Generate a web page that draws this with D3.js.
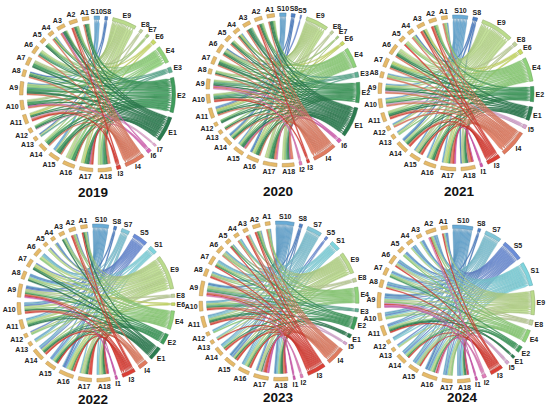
<!DOCTYPE html>
<html>
<head>
<meta charset="utf-8">
<script src="https://cdn.jsdelivr.net/npm/d3@7"></script>
<style>
  body { margin: 0; background: #fff; }
  svg { display: block; }
</style>
</head>
<body>
<div id="chart"></div>
<script>
// target nodes (left half of every circle)
const targets = ["A1", "A2", "A3", "A4", "A5", "A6", "A7", "A8", "A9",
  "A10", "A11", "A12", "A13", "A14", "A15", "A16", "A17", "A18"];

const years = ["2019", "2020", "2021", "2022", "2023", "2024"];

// right-hand nodes per year, clockwise from the top
const nodes2019 = ["S10", "S8", "E9", "E8", "E7", "E6", "E4", "E3", "E2", "E1", "I7", "I6", "I4", "I3"];
const nodes2020 = ["S10", "S8", "S5", "E9", "E8", "E7", "E6", "E4", "E3", "E2", "E1", "I6", "I4", "I3", "I2"];
const nodes2021 = ["S10", "S8", "E9", "E8", "E6", "E4", "E2", "E1", "I5", "I4", "I3", "I1"];
const nodes2022 = ["S10", "S8", "S7", "S5", "S1", "E9", "E8", "E6", "E4", "E2", "E1", "I4", "I3", "I1"];
const nodes2023 = ["S10", "S8", "S7", "S5", "S1", "E9", "E8", "E4", "E3", "E2", "E1", "I5", "I4", "I3", "I2", "I1"];
const nodes2024 = ["S10", "S8", "S7", "S5", "S1", "E9", "E8", "E4", "E2", "E1", "I5", "I3", "I2", "I1"];

// flows: one row per right node, columns A1..A18
const flows2019 = [
  [0,0,0,1,0,0,0,0,1,0,0,0,0,0,2,0,0,0],
  [0,0,0,0,0,0,0,1,0,0,0,0,1,0,0,0,0,0],
  [1,0,1,0,1,2,1,0,1,1,1,0,1,1,1,2,2,2],
  [0,0,0,0,0,0,1,0,0,0,0,0,0,0,0,1,0,0],
  [0,1,0,0,0,0,0,0,0,1,0,0,0,0,0,0,0,0],
  [0,0,0,1,0,0,0,0,0,0,1,0,0,0,0,0,1,0],
  [0,1,0,0,1,1,1,1,2,0,0,1,0,1,0,2,0,2],
  [0,0,0,0,0,1,0,0,1,0,0,0,1,0,0,0,0,1],
  [2,1,1,1,1,1,2,1,2,2,1,1,0,2,2,2,2,2],
  [1,1,2,0,1,0,1,1,2,1,1,1,0,1,2,1,2,1],
  [0,0,0,0,0,0,0,0,0,0,1,0.5,0,0,0,0,0,0],
  [0,0,1,0,0,0,0,0,0,1,0,0,0,0,0,0,1,0],
  [1,1,1,1,0,1,0,1,1,1,1,0,0,1,1,1,1,2],
  [0,1,0,0,0,0,0,0,0,0,1,0,0,0,0,0,1,0]
];
const flows2020 = [
  [0,0,0,1,0,0,0,0,0,0,1,0,0,1,1,1,0,0],
  [0,0,0,0,0,1,0,0,0,0,0,0,0,1,0,1,0,0],
  [0,0,0,0,0,0,0,0,0,0,1,0,0,0,0,0,0,0],
  [1,1,1,0,1,1,1,1,1,1,1,0,0,1,1,2,2,2],
  [0,0,0,0,0,1,0,0,0,0,0,0,0,0,0,0,1,0],
  [0,0,0,0,1,0,0,0,0,0,0,0,0,0,0,0,0,0.5],
  [0,0,0,1,0,0,0,0,0,0,1,0,0,0,0,0.5,0,0],
  [1,1,0,1,0,1,1,1,1,1,1,1,1,1,1,1,1,1],
  [0,0,1,0,0,0,0,0,1,1,0,0,0,0,0,0,0,1],
  [1,1,1,0,1,1,1,0,1,1,1,1,0,1,1,1,2,1],
  [2,1,2,1,1,1,2,1,1,1,1,1,1,1,2,2,2,1],
  [0,0,0,0,0,0,0,0,1,0,0,0,0,0,1,0,0,1],
  [1,1,1,1,1,1,1,1,1,1,1,0,1,1,1,1,2,2],
  [0,1,0,0,0,0,0,0,0,1,0,0,0,0,0,0,0,0],
  [0,0,0,0,0,0,0,0,1,0,0,0,0,0,0,0,1,0]
];
const flows2021 = [
  [1,0,0,0,0,0,0,1,1,1,0,1,1,1,1,1,1,0],
  [0,0,0,1,0,0,0,0,0,0,0,0,0,1,0,0,0,1],
  [1,1,1,1,2,2,1,1,1,1,1,1,1,1,1,2,2,1],
  [0,0,0,0,0,1,0,0,0,0,0,0,0,0,1,0,0,0.5],
  [0,0,1,0,0,0,1,0,0,0,0,0,0,0,0,0,1,0],
  [1,1,0,1,1,1,1,1,1,1,1,0,1,1,1,1,1,1],
  [0,1,0,0,0,1,1,0,1,1,1,0,0,1,0,1,1,1],
  [0,0,1,0,0,1,1,0,1,0,1,0,0,1,1,1,0,1],
  [0,0,0,0,0,0,0,0,1,1,0,0,0,0,0,0,0,0.5],
  [1,1,1,1,0,1,1,1,1,1,1,1,0,1,1,1,2,2],
  [0,1,1,0,1,0,0,0,0,0,1,0,0,1,1,1,1,1],
  [0,0,0,0,0,0,0,0,0,0,0,0,0,0,0,0,1,0.5]
];
const flows2022 = [
  [1,0,1,1,0,1,0,1,1,1,1,0,1,1,1,1,0,0],
  [0,0,0,0,0,0,0,0,1,0,0,0,0,0,0,1,0,0],
  [0,0,0,0,0,1,0,0,0,1,0,0,1,1,0,0,1,1],
  [0,1,0,1,1,0,1,1,1,1,0,1,0,1,1,1,0,0],
  [0,0,0,0,0,1,0,1,0,0,1,0,0,0,1,1,0,1],
  [1,1,1,1,2,2,2,1,1,2,2,1,1,1,1,2,2,2],
  [0,0,0,0,0,0,0,0,1,0,0,0,0,0,0,0,1,0.5],
  [0,0,0,0,0,0,1,0,0,0,0,0,0,0,0,1,0,0],
  [1,1,1,0,0,1,0,1,1,1,1,1,0,1,1,1,1,1],
  [0,0,0,0,0,0,1,0,1,0,1,0,0,1,1,1,1,1],
  [1,0,1,0,0,0,1,1,0,1,1,0,0,1,1,0,1,1],
  [0,1,0,0,0,0,0,0,1,1,0,0,0,1,0,1,1,1],
  [1,1,0,0,0,0,0,0,1,1,0,0,0,1,1,1,2,1],
  [0,0,0,0,0,0,0,0,1,0,0,0,0,0,0,0,0,0.5]
];
const flows2023 = [
  [1,1,0,1,1,1,1,1,1,1,1,1,0,1,1,1,0,1],
  [0,0,0,0,0,0,0,0,1,0,0,0,0,0,1,0,0,0.5],
  [0,0,1,0,0,1,1,1,0,1,1,0,1,1,1,1,1,1],
  [0,0,0,0,0,0,0,0,0,0,0,0,0,0,1,0,1,0],
  [0,0,0,1,0,0,1,0,1,0,1,1,0,1,0,1,0,1],
  [1,1,1,0,1,1,1,1,1,1,1,0,1,1,1,2,2,1],
  [0,0,0,0,0,1,0,0,1,0,0,0,0,0,0,0,1,0],
  [1,1,0,1,0,1,1,1,1,1,1,1,0,0,1,1,0,1],
  [0,0,0,0,0,0,0,0,1,1,0,0,0,0,0,0,0,0.5],
  [0,1,0,0,1,0,1,0,1,1,1,0,0,1,0,1,1,1],
  [0,0,0,0,0,0,0,0,0,0,1,0,0,0,1,0,0,1],
  [0,0,0,0,0,0,0,0,1,0,0,0,0,0,0,0,1,0],
  [1,1,1,1,0,1,0,1,1,1,1,0,0,1,1,1,1,2],
  [0,1,1,0,1,0,1,1,1,1,1,0,1,1,1,1,2,1],
  [0,0,0,0,0,0,0,0,1,0,0,0,0,0,0,0,1,0],
  [0,0,0,0,0,0,0,0,0,0,0,0,0,0,0,0,1,0.5]
];
const flows2024 = [
  [1,1,1,1,1,1,0,1,1,1,1,1,0,1,1,1,1,1],
  [0,0,0,0,0,0,0,0,1,0,0,0,0,0,0,1,0,0],
  [0,1,0,1,0,1,1,1,1,1,0,1,0,1,1,1,1,1],
  [1,1,1,1,1,1,1,1,1,1,1,0,1,1,1,1,1,1],
  [1,1,1,1,1,1,1,1,1,1,1,1,1,1,1,1,1,2],
  [1,1,1,1,1,1,1,1,1,1,1,0,1,1,1,2,2,1],
  [0,0,0,0,0,1,0,0,1,0,0,0,0,0,1,0,1,0],
  [0,1,0,0,1,0,1,0,1,1,1,0,0,1,1,1,1,0],
  [0,0,0,0,0,0,1,0,0,0,1,0,0,1,0,1,0,1],
  [0,0,0,0,0,0,0,0,0,0,1,0,0,0,0,0,0,1],
  [0,0,0,0,0,0,0,0,1,0,0,0,0,0,0,1,0,0.5],
  [1,1,0,0,0,1,0,1,1,0,1,0,0,1,1,1,0,1],
  [0,1,0,0,0,0,0,0,1,0,0,0,0,0,0,1,0,0],
  [0,0,0,0,0,0,0,0,1,0,0,0,0,0,0,0,0,0.5]
];

const allNodes = [nodes2019, nodes2020, nodes2021, nodes2022, nodes2023, nodes2024];
const allFlows = [flows2019, flows2020, flows2021, flows2022, flows2023, flows2024];

// node colours
const colors = {
  S10: "#68abd6", S8: "#4d80c6", S7: "#80c6d8", S5: "#6b8dd8", S1: "#7fd5de",
  E9: "#badb8c", E8: "#c0d29c", E7: "#a9cf80", E6: "#c9dc65", E4: "#8fd27a",
  E3: "#5fae92", E2: "#3f9c5c", E1: "#2b7b4f",
  I7: "#e4a7d0", I6: "#d764b6", I5: "#d8a6d0", I4: "#e17a5e", I3: "#dd3f35",
  I2: "#e27cba", I1: "#d356b0"
};
const targetColor = "#e6ba69";

const width = 550, height = 409;
const panels = [
  { cx: 97.5, cy: 94, r: 78, tx: 93, ty: 197 },
  { cx: 283, cy: 90, r: 77, tx: 278, ty: 196 },
  { cx: 456, cy: 93, r: 78, tx: 459, ty: 196 },
  { cx: 96, cy: 303, r: 79, tx: 93, ty: 404 },
  { cx: 279, cy: 301, r: 80, tx: 278, ty: 402 },
  { cx: 456, cy: 304, r: 79, tx: 462, ty: 402 }
];

const rot = -2.5 * Math.PI / 180;
const pad = 4 * Math.PI / 180;

const svg = d3.select("#chart").append("svg")
  .attr("width", width)
  .attr("height", height);

function drawPanel(p, nodes, flows, year) {
  const g = svg.append("g").attr("transform", `translate(${p.cx},${p.cy})`);

  // right nodes first, then A18 .. A1 so A1 ends next to the top
  const names = nodes.concat(targets.slice().reverse());
  const n = names.length, R = nodes.length;
  const matrix = names.map(() => new Array(n).fill(0));
  flows.forEach((row, j) => row.forEach((v, a) => { matrix[n - 1 - a][j] = v; }));

  const chords = d3.chordDirected().padAngle(pad)(matrix);

  // put the ribbons of each A node in the order that avoids twisting
  chords.groups.forEach(gr => {
    if (gr.index < R) return;
    let x = gr.startAngle;
    chords.filter(c => c.source.index === gr.index)
      .sort((a, b) => b.target.index - a.target.index)
      .forEach(c => {
        const w = c.source.endAngle - c.source.startAngle;
        c.source.startAngle = x;
        c.source.endAngle = x += w;
      });
  });

  const ribbon = d3.ribbonArrow()
    .sourceRadius(p.r - 7.5)
    .targetRadius(p.r - 3.8)
    .headRadius(4)
    .startAngle(d => d.startAngle + rot)
    .endAngle(d => d.endAngle + rot);

  const arc = d3.arc()
    .innerRadius(p.r - 3.5)
    .outerRadius(p.r)
    .startAngle(d => d.startAngle + rot)
    .endAngle(d => d.endAngle + rot);

  // ribbons
  g.append("g")
    .selectAll("path")
    .data(chords)
    .join("path")
    .attr("d", ribbon)
    .attr("fill", d => colors[names[d.target.index]])
    .attr("fill-opacity", 0.88)
    .attr("stroke", d => d3.color(colors[names[d.target.index]]).darker(0.5))
    .attr("stroke-width", 0.35);

  // node arcs
  g.append("g")
    .selectAll("path")
    .data(chords.groups)
    .join("path")
    .attr("d", arc)
    .attr("fill", d => d.index < R ? colors[names[d.index]] : targetColor)
    .attr("stroke", d => d3.color(d.index < R ? colors[names[d.index]] : targetColor).darker(0.7))
    .attr("stroke-width", 0.5);

  // node labels
  chords.groups.forEach(gr => {
    const a = (gr.startAngle + gr.endAngle) / 2 + rot;
    const t = g.append("text")
      .text(names[gr.index])
      .attr("font-family", "'Liberation Sans', Arial, sans-serif")
      .attr("font-weight", "bold")
      .attr("font-size", 7)
      .attr("fill", "#222")
      .attr("text-anchor", "middle")
      .attr("dy", "0.35em");
    const w = t.node().getComputedTextLength(), h = 5.5;
    const rr = p.r + 1.5 + Math.abs(Math.sin(a)) * w / 2 + Math.abs(Math.cos(a)) * h / 2;
    t.attr("x", rr * Math.sin(a)).attr("y", -rr * Math.cos(a));
  });

  // year title
  svg.append("text")
    .attr("x", p.tx)
    .attr("y", p.ty)
    .attr("text-anchor", "middle")
    .attr("font-family", "'Liberation Sans', Arial, sans-serif")
    .attr("font-weight", "bold")
    .attr("font-size", 13.5)
    .attr("fill", "#111")
    .text(year);
}

years.forEach((y, i) => drawPanel(panels[i], allNodes[i], allFlows[i], y));
</script>
</body>
</html>
